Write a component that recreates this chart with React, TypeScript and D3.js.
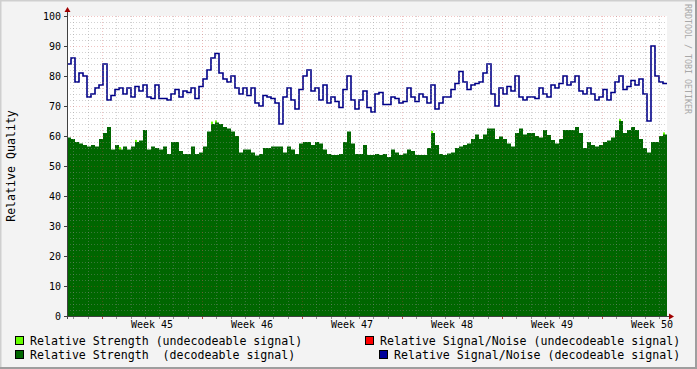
import * as d3 from 'd3';
import { useEffect, useRef } from 'react';

// relative S/N (decodeable signal), one value per ~6.7 h
const signalNoise: number[] = [
    84, 86, 78, 81, 80, 73, 74, 76, 77, 84, 72, 73.5, 75.5, 76, 74, 76, 73, 76.5, 75, 77, 73, 72.5, 77, 72.5, 72.5,
    72, 74, 75.5, 73, 75, 74.5, 76, 72.5, 76.5, 79, 82, 86, 87.5, 81, 79, 78, 80, 76, 74, 76, 73.5, 76, 71, 70, 73.5,
    73, 72.5, 71, 64, 73, 76, 72, 69, 75.5, 80, 82, 75, 76, 72, 77, 71, 73, 71.5, 69.5, 75.5, 80, 72, 69, 72, 75,
    69.5, 68, 74, 74.5, 70.5, 70.5, 73, 72.5, 71, 71.5, 76, 73, 71.5, 74, 73, 71, 77, 69, 71, 73, 73, 75.5, 77.5, 81.5, 78,
    75.5, 77, 77.5, 78, 81, 84, 74, 70, 76, 74, 76.5, 75, 80, 73, 72, 73, 73, 72.5, 76, 74, 73, 77, 76, 77.5, 80,
    77, 78, 80, 75, 74, 76, 74, 72, 73, 75.5, 72, 74.5, 78, 80, 75.5, 76.5, 78.5, 77, 79, 74, 65, 90, 80, 78, 77.5
];

// relative strength (decodeable signal)
const strength: number[] = [
    59.5, 59, 58, 57.5, 57, 56.5, 57, 56.5, 59, 61, 63, 55.5, 57, 55.5, 56.5, 55.5, 56.5, 58, 58.5, 62, 55.5, 56.5, 56, 55.5, 56.5,
    54, 58, 58, 55, 54, 54, 56.5, 54, 54.5, 56.5, 61.5, 64, 64.5, 64, 63, 62.5, 61.5, 60, 54.5, 55.5, 55.5, 54.5, 53.5, 54, 56,
    56, 56.5, 56.5, 56.5, 54.5, 56.5, 55.5, 54, 57.5, 58, 58, 57, 58, 57.5, 55.5, 54, 53.7, 53.7, 54, 58, 61.5, 57.5, 54, 54, 57,
    53.7, 53.7, 54, 53.7, 54, 53, 55.5, 54.5, 53.7, 54.2, 55.5, 55, 53.7, 53.7, 53.7, 56, 61, 57, 54, 53.7, 54.2, 54.5, 56, 56.5, 57,
    57.5, 59, 60.5, 59, 60.5, 62.5, 62.5, 59, 59.8, 59, 57.5, 56.5, 61, 62.5, 60.5, 61, 61, 60, 59.5, 62, 60.3, 58.7, 57.5, 59, 62,
    62, 62, 63, 61, 56, 58, 57, 56.5, 57, 58, 58.5, 59.5, 62, 65, 61, 62, 63, 62, 59, 56, 54.5, 58, 58, 60, 60.5
];

// relative strength (undecodeable signal), only where it peeks above the decodeable area
const undecodeableIdx: number[] = [13, 17, 36, 37, 91, 138, 149];
const undecodeableVal: number[] = [56.3, 58.7, 64.8, 65.2, 61.7, 65.6, 61.2];

const yTicks: number[] = [0, 10, 20, 30, 40, 50, 60, 70, 80, 90, 100];

const legendLabels: string[] = [
    'Relative Strength (undecodeable signal)',
    'Relative Strength  (decodeable signal)',
    'Relative Signal/Noise (undecodeable signal)',
    'Relative Signal/Noise (decodeable signal)'
];
const legendColors: string[] = ['#66FF00', '#006600', '#FF0000', '#000099'];

const DAY = 86400000;

const QualityGraph: React.FC = () => {
    const ref = useRef<SVGSVGElement | null>(null);

    useEffect(() => {
        if (!ref.current) return;
        const W = 697, H = 369;
        const left = 67, right = 667, top = 16, bottom = 316;
        const mono = 'DejaVu Sans Mono, monospace';

        const start = new Date(2008, 9, 31, 13, 12);
        const end = new Date(start.getTime() + 42 * DAY);
        const step = (end.getTime() - start.getTime()) / signalNoise.length;
        const t = (i: number) => new Date(start.getTime() + i * step);

        const x = d3.scaleTime().domain([start, end]).range([left, right]);
        const y = d3.scaleLinear().domain([0, 100]).range([bottom, top]);

        const svg = d3.select(ref.current);
        svg.selectAll('*').remove();

        // background and 3d border
        svg.append('rect').attr('width', W).attr('height', H).attr('fill', '#F3F3F3');
        svg.append('path').attr('d', `M0.5,${H}V0.5H${W}`).attr('fill', 'none').attr('stroke', '#CFCFCF').attr('stroke-width', 2);
        svg.append('path').attr('d', `M${W - 1},0V${H - 1}H0`).attr('fill', 'none').attr('stroke', '#9E9E9E').attr('stroke-width', 2);
        svg.append('rect').attr('x', left).attr('y', top).attr('width', right - left).attr('height', bottom - top).attr('fill', '#FFFFFF');

        // undecodeable strength spots
        svg.selectAll('.undec')
            .data(undecodeableIdx)
            .enter().append('rect')
            .attr('x', d => x(t(d)))
            .attr('width', d => x(t(d + 1)) - x(t(d)) - 2)
            .attr('y', (_d, i) => y(undecodeableVal[i]))
            .attr('height', (_d, i) => y(0) - y(undecodeableVal[i]))
            .attr('fill', '#66FF00');

        const withEnd = (arr: number[]) => arr.map((v, i) => [i, v] as [number, number]).concat([[arr.length, arr[arr.length - 1]]]);

        const area = d3.area<[number, number]>()
            .x(d => x(t(d[0])))
            .y0(y(0))
            .y1(d => y(d[1]))
            .curve(d3.curveStepAfter);
        svg.append('path').attr('d', area(withEnd(strength))!).attr('fill', '#006600');

        const line = d3.line<[number, number]>()
            .x(d => x(t(d[0])))
            .y(d => y(d[1]))
            .curve(d3.curveStepAfter);
        svg.append('path').attr('d', line(withEnd(signalNoise))!)
            .attr('fill', 'none').attr('stroke', '#000088').attr('stroke-width', 1.6);

        // grid on top, rrdtool style
        const grid = svg.append('g').attr('shape-rendering', 'crispEdges').attr('stroke-width', 1).attr('stroke-dasharray', '1,2');
        const minorCol = 'rgba(143,143,143,0.4)';
        const majorCol = 'rgba(210,60,60,0.3)';
        const minorY = d3.range(0, 101, 2).filter(v => v % 10 !== 0);
        grid.selectAll('.hmin').data(minorY).enter().append('line')
            .attr('x1', left).attr('x2', right)
            .attr('y1', d => Math.round(y(d)) + 0.5).attr('y2', d => Math.round(y(d)) + 0.5)
            .attr('stroke', minorCol);
        const days = d3.timeDay.range(start, end).filter(d => d.getDay() !== 1);
        grid.selectAll('.vmin').data(days).enter().append('line')
            .attr('y1', top).attr('y2', bottom)
            .attr('x1', d => Math.round(x(d)) + 0.5).attr('x2', d => Math.round(x(d)) + 0.5)
            .attr('stroke', minorCol);
        grid.selectAll('.hmaj').data(yTicks.slice(1)).enter().append('line')
            .attr('x1', left).attr('x2', right)
            .attr('y1', d => Math.round(y(d)) + 0.5).attr('y2', d => Math.round(y(d)) + 0.5)
            .attr('stroke', majorCol);
        const weeks = d3.timeMonday.range(start, end);
        grid.selectAll('.vmaj').data(weeks).enter().append('line')
            .attr('y1', top).attr('y2', bottom)
            .attr('x1', d => Math.round(x(d)) + 0.5).attr('x2', d => Math.round(x(d)) + 0.5)
            .attr('stroke', majorCol);

        // axes
        const ax = svg.append('g').attr('shape-rendering', 'crispEdges');
        ax.selectAll('.dt').data(d3.timeDay.range(start, end)).enter().append('line')
            .attr('x1', d => Math.round(x(d)) + 0.5).attr('x2', d => Math.round(x(d)) + 0.5)
            .attr('y1', bottom).attr('y2', bottom + 3)
            .attr('stroke', d => d.getDay() === 1 ? '#C04040' : '#909090');
        ax.selectAll('.yt').data(yTicks).enter().append('line')
            .attr('x1', left - 3).attr('x2', left)
            .attr('y1', d => Math.round(y(d)) + 0.5).attr('y2', d => Math.round(y(d)) + 0.5)
            .attr('stroke', '#404040');
        ax.append('line').attr('x1', left - 3).attr('x2', right + 4).attr('y1', bottom + 0.5).attr('y2', bottom + 0.5).attr('stroke', '#404040');
        ax.append('line').attr('x1', left + 0.5).attr('x2', left + 0.5).attr('y1', bottom + 3).attr('y2', top - 5).attr('stroke', '#404040');
        svg.append('path').attr('d', `M${right + 2},${bottom - 2.5}L${right + 7},${bottom + 0.5}L${right + 2},${bottom + 3.5}Z`).attr('fill', '#A00000');
        svg.append('path').attr('d', `M${left - 2.5},${top - 4}L${left + 0.5},${top - 9}L${left + 3.5},${top - 4}Z`).attr('fill', '#A00000');

        // labels
        svg.selectAll('.ylab').data(yTicks).enter().append('text')
            .attr('x', left - 6).attr('y', d => y(d) + 3.5)
            .attr('text-anchor', 'end').attr('font-family', mono).attr('font-size', 10)
            .text(d => d);
        const fmt = d3.timeFormat('%V');
        svg.selectAll('.xlab').data(weeks.map(w => new Date(w.getTime() + 3.5 * DAY)).filter(d => d < end)).enter().append('text')
            .attr('x', d => x(d)).attr('y', bottom + 12)
            .attr('text-anchor', 'middle').attr('font-family', mono).attr('font-size', 10)
            .text(d => 'Week ' + fmt(new Date(d.getTime() - 3.5 * DAY)));

        svg.append('text')
            .attr('transform', `translate(15,${(top + bottom) / 2}) rotate(-90)`)
            .attr('text-anchor', 'middle').attr('font-family', mono).attr('font-size', 11.6)
            .text('Relative Quality');

        svg.append('text')
            .attr('transform', 'translate(685,4) rotate(90)')
            .attr('font-family', mono).attr('font-size', 8.3).attr('fill', '#A8A8A8')
            .text('RRDTOOL / TOBI OETIKER');

        // legend
        const lx = [15, 15, 365, 379];
        const ly = [341, 355, 341, 355];
        const lg = svg.selectAll('.leg').data(legendLabels).enter().append('g')
            .attr('transform', (_d, i) => `translate(${lx[i]},${ly[i]})`);
        lg.append('rect').attr('x', 0.5).attr('y', -4.5).attr('width', 8).attr('height', 8)
            .attr('fill', (_d, i) => legendColors[i]).attr('stroke', '#000').attr('shape-rendering', 'crispEdges');
        lg.append('text').attr('x', 15).attr('y', 4)
            .attr('font-family', mono).attr('font-size', 11.6)
            .attr('xml:space', 'preserve').style('white-space', 'pre')
            .text(d => d);
    }, []);

    return <svg ref={ref} width={697} height={369} style={{ position: 'absolute', left: 0, top: 0 }} />;
};

export default function App() {
    return <QualityGraph />;
}
